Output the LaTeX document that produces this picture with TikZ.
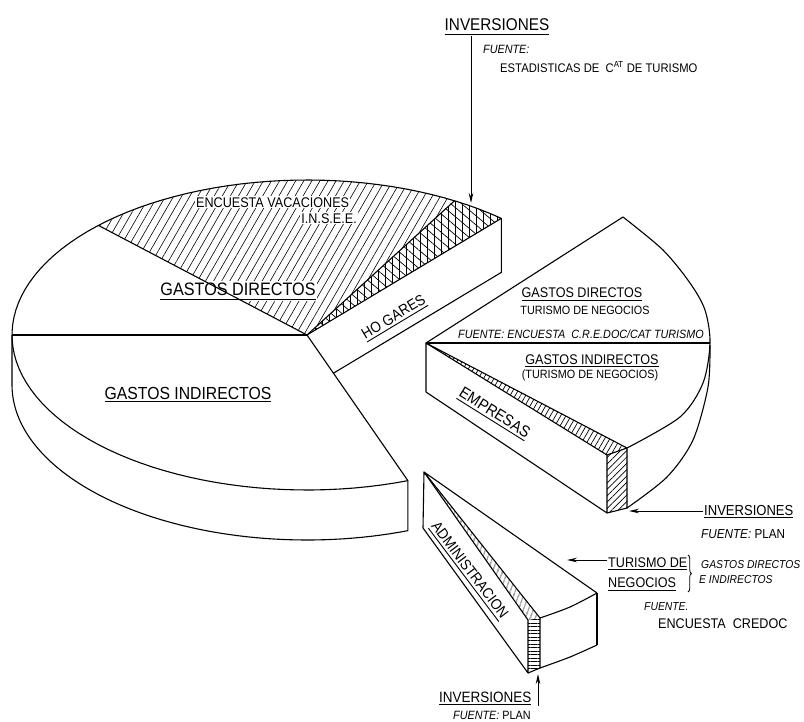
\documentclass[tikz,border=0pt]{standalone}
\usepackage{fontspec}
\setmainfont[FakeStretch=0.9]{Liberation Sans}
\usetikzlibrary{calc,arrows.meta,patterns.meta,decorations.pathreplacing}
\newcommand\fsz[1]{\fontsize{#1}{#1}\selectfont}
\newcommand\ulin[2][3.5pt]{\setbox0\hbox{#2}\rlap{\rule[-#1]{\wd0}{0.9pt}}\box0}

\begin{document}
\begin{tikzpicture}[x=1pt,y=-1pt,line join=round,
  rim/.style={line width=1.1pt},
  hatch/.style={pattern={Lines[angle=60,distance=7pt,line width=.6pt]}},
  lbl/.style={inner sep=1pt,anchor=base},
  arr/.style={line width=.9pt,-{Stealth[length=10pt,width=4.5pt]}}]
\useasboundingbox (0,0) rectangle (804,721);

\coordinate (O) at (307,335);
\coordinate (Ob) at (307,389);
\coordinate (m70) at (407.9,480.7);
\coordinate (C1) at (501.3,218.4);
\coordinate (C1b) at (501.3,272.4);
\coordinate (X) at (intersection of C1b--Ob and O--m70);

\fill[hatch] (O) -- plot[domain=225:300,samples=40] ({307+295*cos(\x)},{335+155*sin(\x)}) -- cycle;
\fill[pattern={Lines[angle=90,distance=7pt,line width=.7pt]}] (O) -- plot[domain=300:311.2,samples=10] ({307+295*cos(\x)},{335+155*sin(\x)}) -- cycle;
\fill[pattern={Lines[angle=-40,distance=7pt,line width=.7pt]}] (O) -- plot[domain=300:311.2,samples=10] ({307+295*cos(\x)},{335+155*sin(\x)}) -- cycle;

\node[lbl,anchor=base west,fill=white,font=\fsz{14}] (encVac) at (195,207) {ENCUESTA VACACIONES};
\node[lbl,anchor=base east,fill=white,font=\fsz{14}] (insee) at (358,223) {I.N.S.E.E.};
\node[lbl,fill=white,font=\fsz{18}] (gDir) at (238,295) {\ulin[5pt]{GASTOS DIRECTOS}};

\draw[rim] (O) -- plot[domain=70:311.2,samples=90] ({307+295*cos(\x)},{335+155*sin(\x)}) -- cycle;
\draw[rim] (O) -- (12,335);
\draw[rim] (O) -- (98.4,225.4);
\draw[rim] (O) -- (454.5,200.8);
\draw[rim] (12,335) -- plot[domain=180:70,samples=60] ({307+295*cos(\x)},{385+155*sin(\x)}) -- (m70);
\draw[rim] (C1) -- (C1b) -- (X);

\node[lbl,font=\fsz{17.5}] (gInd) at (188,399) {\ulin[3pt]{GASTOS INDIRECTOS}};
\node[lbl,rotate=31,font=\fsz{15}] (hog) at (396,321) {\ulin{HO GARES}};

\coordinate (A) at (426,343);
\fill[pattern={Lines[angle=60,distance=4.5pt,line width=.7pt]}] (A) -- (607,455) -- (627,448) -- cycle;
\fill[pattern={Lines[angle=45,distance=4.5pt,line width=.7pt]}] (607,455) -- (627,448) -- (627,508) -- (607,513) -- cycle;
\draw[rim] (A) -- plot[smooth] coordinates {(623,217) (663,250) (690,283) (705,310) (710,343) (703,383) (680,417) (627,448)} -- cycle;
\draw[rim] (A) -- (607,455) -- (607,513) -- (426,392) -- cycle;
\draw[rim] (607,455) -- (627,448) -- (627,508) -- (607,513);
\draw[rim] plot[smooth] coordinates {(627,508) (667,477) (693,440) (708,387) (710,345)};
\draw[rim] (A) -- (710,343);

\node[lbl,font=\fsz{14}] (eDir) at (582,297) {\ulin[4pt]{GASTOS DIRECTOS}};
\node[lbl,font=\fsz{12}] (eTur) at (585,314) {TURISMO DE NEGOCIOS};
\node[lbl,anchor=base west,font=\fsz{12}\itshape] (eFte) at (457,338) {FUENTE: ENCUESTA\ \ C.R.E.DOC/CAT TURISMO};
\node[lbl,font=\fsz{14}] (eInd) at (592,364) {\ulin[3pt]{GASTOS INDIRECTOS}};
\node[lbl,font=\fsz{12}] (eTur2) at (590,378) {(TURISMO DE NEGOCIOS)};
\node[lbl,rotate=-32,font=\fsz{16}] (emp) at (492,417) {\ulin{EMPRESAS}};

\coordinate (P) at (424,472);
\fill[pattern={Lines[angle=70,distance=4pt,line width=.6pt]}] (P) -- (528,620) -- (540,618) -- cycle;
\fill[pattern={Lines[angle=0,distance=3.5pt,line width=.5pt]}] (528,620) -- (540,618) -- (540,668) -- (528,673) -- cycle;
\draw[rim] (P) -- plot[smooth] coordinates {(597,593) (570,607) (540,618)} -- cycle;
\draw[rim] (P) -- (528,620) -- (528,673) -- (423,528) -- cycle;
\draw[rim] (540,618) -- (540,668) -- (528,673);
\draw[rim] (597,593) -- (597,645);
\draw[rim] plot[smooth] coordinates {(540,668) (570,657) (597,645)};
\node[lbl,rotate=-53,font=\fsz{15}] (adm) at (466,573) {\ulin{ADMINISTRACION}};

\node[lbl,font=\fsz{17}] (invTop) at (497,30) {\ulin[5pt]{INVERSIONES}};
\node[lbl,anchor=base west,font=\fsz{12}\itshape] (fteTop) at (482,53) {FUENTE:};
\node[lbl,anchor=base west,font=\fsz{12.5}] (estad) at (499,72) {ESTADISTICAS DE\ \ C\textsuperscript{AT} DE TURISMO};
\coordinate (tipTop) at (471,203);
\draw[arr] (invTop.south -| tipTop) -- (tipTop);

\node[lbl,anchor=base west,font=\fsz{14.5}] (invR) at (703,515) {\ulin[3pt]{INVERSIONES}};
\node[lbl,anchor=base west,font=\fsz{13}] (planR) at (700,538) {\itshape FUENTE: \upshape PLAN};
\coordinate (tipR) at (629,511);
\draw[arr] (invR.west |- tipR) -- (tipR);

\node[lbl,anchor=base west,font=\fsz{14}] (turNeg) at (607,567) {\ulin[3pt]{TURISMO DE}};
\node[lbl,anchor=base west,font=\fsz{14}] (neg) at (607,587) {\ulin[4pt]{NEGOCIOS}};
\node[lbl,anchor=base west,font=\fsz{11.5}\itshape] (gdi1) at (700,568) {GASTOS DIRECTOS};
\node[lbl,anchor=base west,font=\fsz{11.5}\itshape] (gdi2) at (698,583) {E INDIRECTOS};
\node[lbl,anchor=base west,font=\fsz{11.5}\itshape] (fteCre) at (643,610) {FUENTE.};
\node[lbl,anchor=base west,font=\fsz{14}] (encCre) at (657,628) {ENCUESTA\ \ CREDOC};
\draw[decorate,decoration={brace,amplitude=3.5pt},line width=.8pt] (688,555) -- (688,592);
\coordinate (tipT) at (567,560);
\draw[arr] (turNeg.west |- tipT) -- (tipT);

\node[lbl,anchor=base west,font=\fsz{15}] (invB) at (438,702) {\ulin[2.5pt]{INVERSIONES}};
\node[lbl,anchor=base west,font=\fsz{12}] (planB) at (452,719) {\itshape FUENTE: \upshape PLAN};
\coordinate (tipB) at (538,674);
\draw[arr] (invB.south east -| tipB) -- (tipB);
\end{tikzpicture}
\end{document}
